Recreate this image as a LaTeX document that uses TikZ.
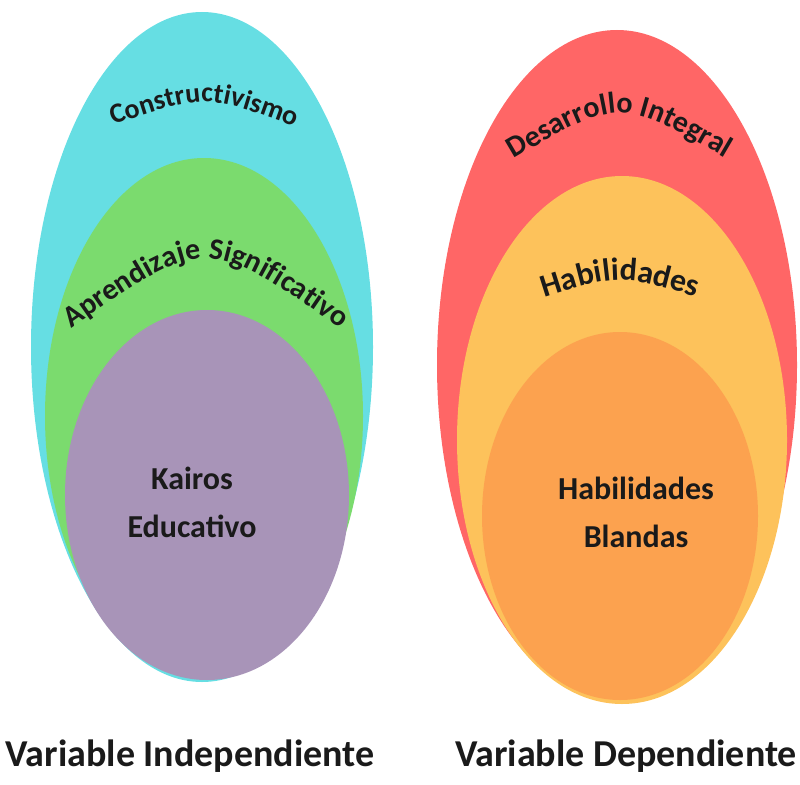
\documentclass[tikz,border=0pt]{standalone}
\usepackage{fontspec}
\setmainfont{Carlito}
\usepackage{tikz}
\usetikzlibrary{decorations.text}
\definecolor{ink}{HTML}{1A1A1A}
\definecolor{sky}{HTML}{66DEE3}
\definecolor{leaf}{HTML}{7BDB6E}
\definecolor{lilac}{HTML}{A894B8}
\definecolor{coral}{HTML}{FF6666}
\definecolor{sand}{HTML}{FDC25B}
\definecolor{apricot}{HTML}{FCA24F}
\newcommand{\arcfont}{\bfseries\fontsize{28}{30}\selectfont}
\newcommand{\arcfontm}{\bfseries\fontsize{30}{32}\selectfont}
\newcommand{\arcfontl}{\bfseries\fontsize{32}{34}\selectfont}
\tikzset{
  lab/.style={text=ink, font=\bfseries\fontsize{32}{48}\selectfont, align=center},
  big/.style={text=ink, font=\bfseries\fontsize{38}{44}\selectfont},
  arclab/.style={decorate, decoration={text along path, text align=center, text color=ink, text={#1}}},
}
\begin{document}
\begin{tikzpicture}[x=1pt,y=-1pt]
  \useasboundingbox (0,0) rectangle (800,784);
  % independent variable
  \fill[sky] (202,347) ellipse (171 and 335);
  \fill[leaf] (204,416) ellipse (159 and 258);
  \fill[lilac] (207,495) ellipse (142 and 185);
  \path[arclab={|\arcfont|Constructivismo}] (113,125) .. controls (206,94) .. (295,127);
  \path[arclab={|\arcfontm|Aprendizaje Significativo}] (66,332) .. controls (205,234) .. (346,332);
  \node[lab] (kairos) at (192,502) {Kairos\\Educativo};
  % dependent variable
  \fill[coral] (617,365) ellipse (180 and 335);
  \fill[sand] (622,440) ellipse (165 and 264);
  \fill[apricot] (620,516) ellipse (138 and 184);
  \path[arclab={|\arcfontm|Desarrollo Integral}] (505,164) .. controls (620,96) .. (734,163);
  \path[arclab={|\arcfontl|Habilidades}] (540,299) .. controls (618,274) .. (701,298);
  \node[lab] (blandas) at (636,512) {Habilidades\\Blandas};
  % captions
  \node[big] (varind) at (190,756) {Variable Independiente};
  \node[big] (vardep) at (626,756) {Variable Dependiente};
\end{tikzpicture}
\end{document}
